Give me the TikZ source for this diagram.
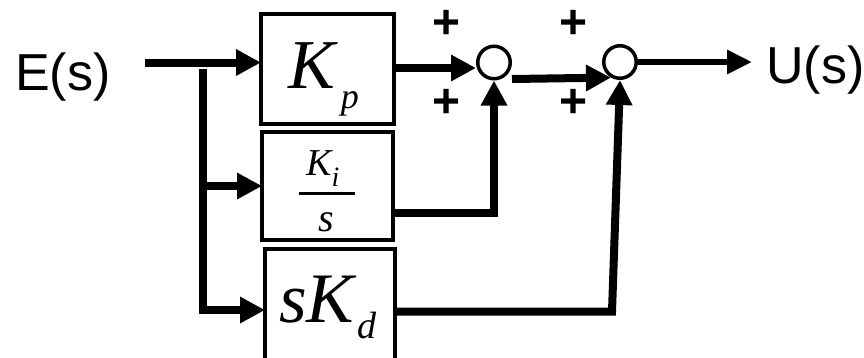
\documentclass[tikz,border=0pt]{standalone}
\usepackage{fontspec}
\setmainfont{Liberation Serif}
\newfontfamily\sansf{Liberation Sans}
\usetikzlibrary{arrows.meta}
\begin{document}
\begin{tikzpicture}[x=1pt,y=-1pt,
  blk/.style={draw, line width=4pt, inner sep=0pt, outer sep=0pt},
  sumc/.style={draw, circle, line width=3.5pt, minimum size=32.5pt, inner sep=0pt},
  wire/.style={line width=8pt},
  arr/.style={wire, -{Triangle[length=25pt,width=25pt]}},
  sig/.style={font=\sansf\fontsize{52}{52}\selectfont, inner sep=0pt, anchor=base west},
  pl/.style={font=\sansf\bfseries\fontsize{48}{48}\selectfont, inner sep=0pt},
  gain/.style={inner sep=0pt, anchor=base west}
]
\useasboundingbox (0,0) rectangle (864,357);
\clip (0,0) rectangle (864,357);

% blocks
\node[blk, minimum width=133pt, minimum height=110pt] (kp) at (327.5,69) {};
\node[blk, minimum width=131pt, minimum height=108pt] (ki) at (327.5,186) {};
\node[blk, minimum width=130pt, minimum height=131pt] (kd) at (330,314.5) {};

% summing junctions
\node[sumc] (s1) at (494,62.5) {};
\node[sumc] (s2) at (620,62) {};

% signals
\node[sig] (E) at (15,90) {E(s)};
\node[sig] (U) at (766,83) {U(s)};

% signs
\node[pl] (p1) at (447,24) {+};
\node[pl] (p2) at (574,24) {+};
\node[pl] (p3) at (447,103) {+};
\node[pl] (p4) at (574,103) {+};

% gains
\node[gain, font=\itshape\fontsize{70}{70}\selectfont] (tp) at (288,88)
  {K\hspace{6pt}\raisebox{-20pt}{\fontsize{36}{36}\selectfont p}};
\node[gain, font=\itshape\fontsize{38}{38}\selectfont] (tki) at (306,175)
  {K\raisebox{-11pt}{\fontsize{28}{28}\selectfont i}};
\draw[line width=3pt] (299,193) -- (355,193);
\node[gain, font=\itshape\fontsize{40}{40}\selectfont] (ts) at (318,231) {s};
\node[gain, font=\itshape\fontsize{71}{71}\selectfont] (td) at (279,322)
  {sK\hspace{3pt}\raisebox{-16pt}{\fontsize{38}{38}\selectfont d}};

% input branching
\coordinate (ein) at (145,62.5);
\coordinate (jt) at (203,69);
\coordinate (jm) at (203,186);
\coordinate (jb) at (203,310);
\draw[arr] (ein) -- (kp.west |- ein);
\draw[arr] (jm) -- (ki.west |- jm);
\draw[arr] (jt) -- (jb) -- (kd.west |- jb);

% outputs
\coordinate (y68) at (0,68);
\coordinate (y79) at (0,79);
\draw[arr] (kp.east |- y68) -- (s1.west |- y68);
\draw[arr] (s1.east |- y79) -- (s2.240);
\coordinate (uin) at (752,62);
\draw[line width=6pt, -{Triangle[length=25pt,width=23pt]}] (s2.east) -- (uin);
\coordinate (kic) at (494,212.5);
\draw[arr] (ki.east |- kic) -- (kic) -- (s1.south);
\coordinate (kdc) at (612,311.5);
\draw[arr] (kd.east |- kdc) -- (kdc) -- (s2.south);
\end{tikzpicture}
\end{document}
